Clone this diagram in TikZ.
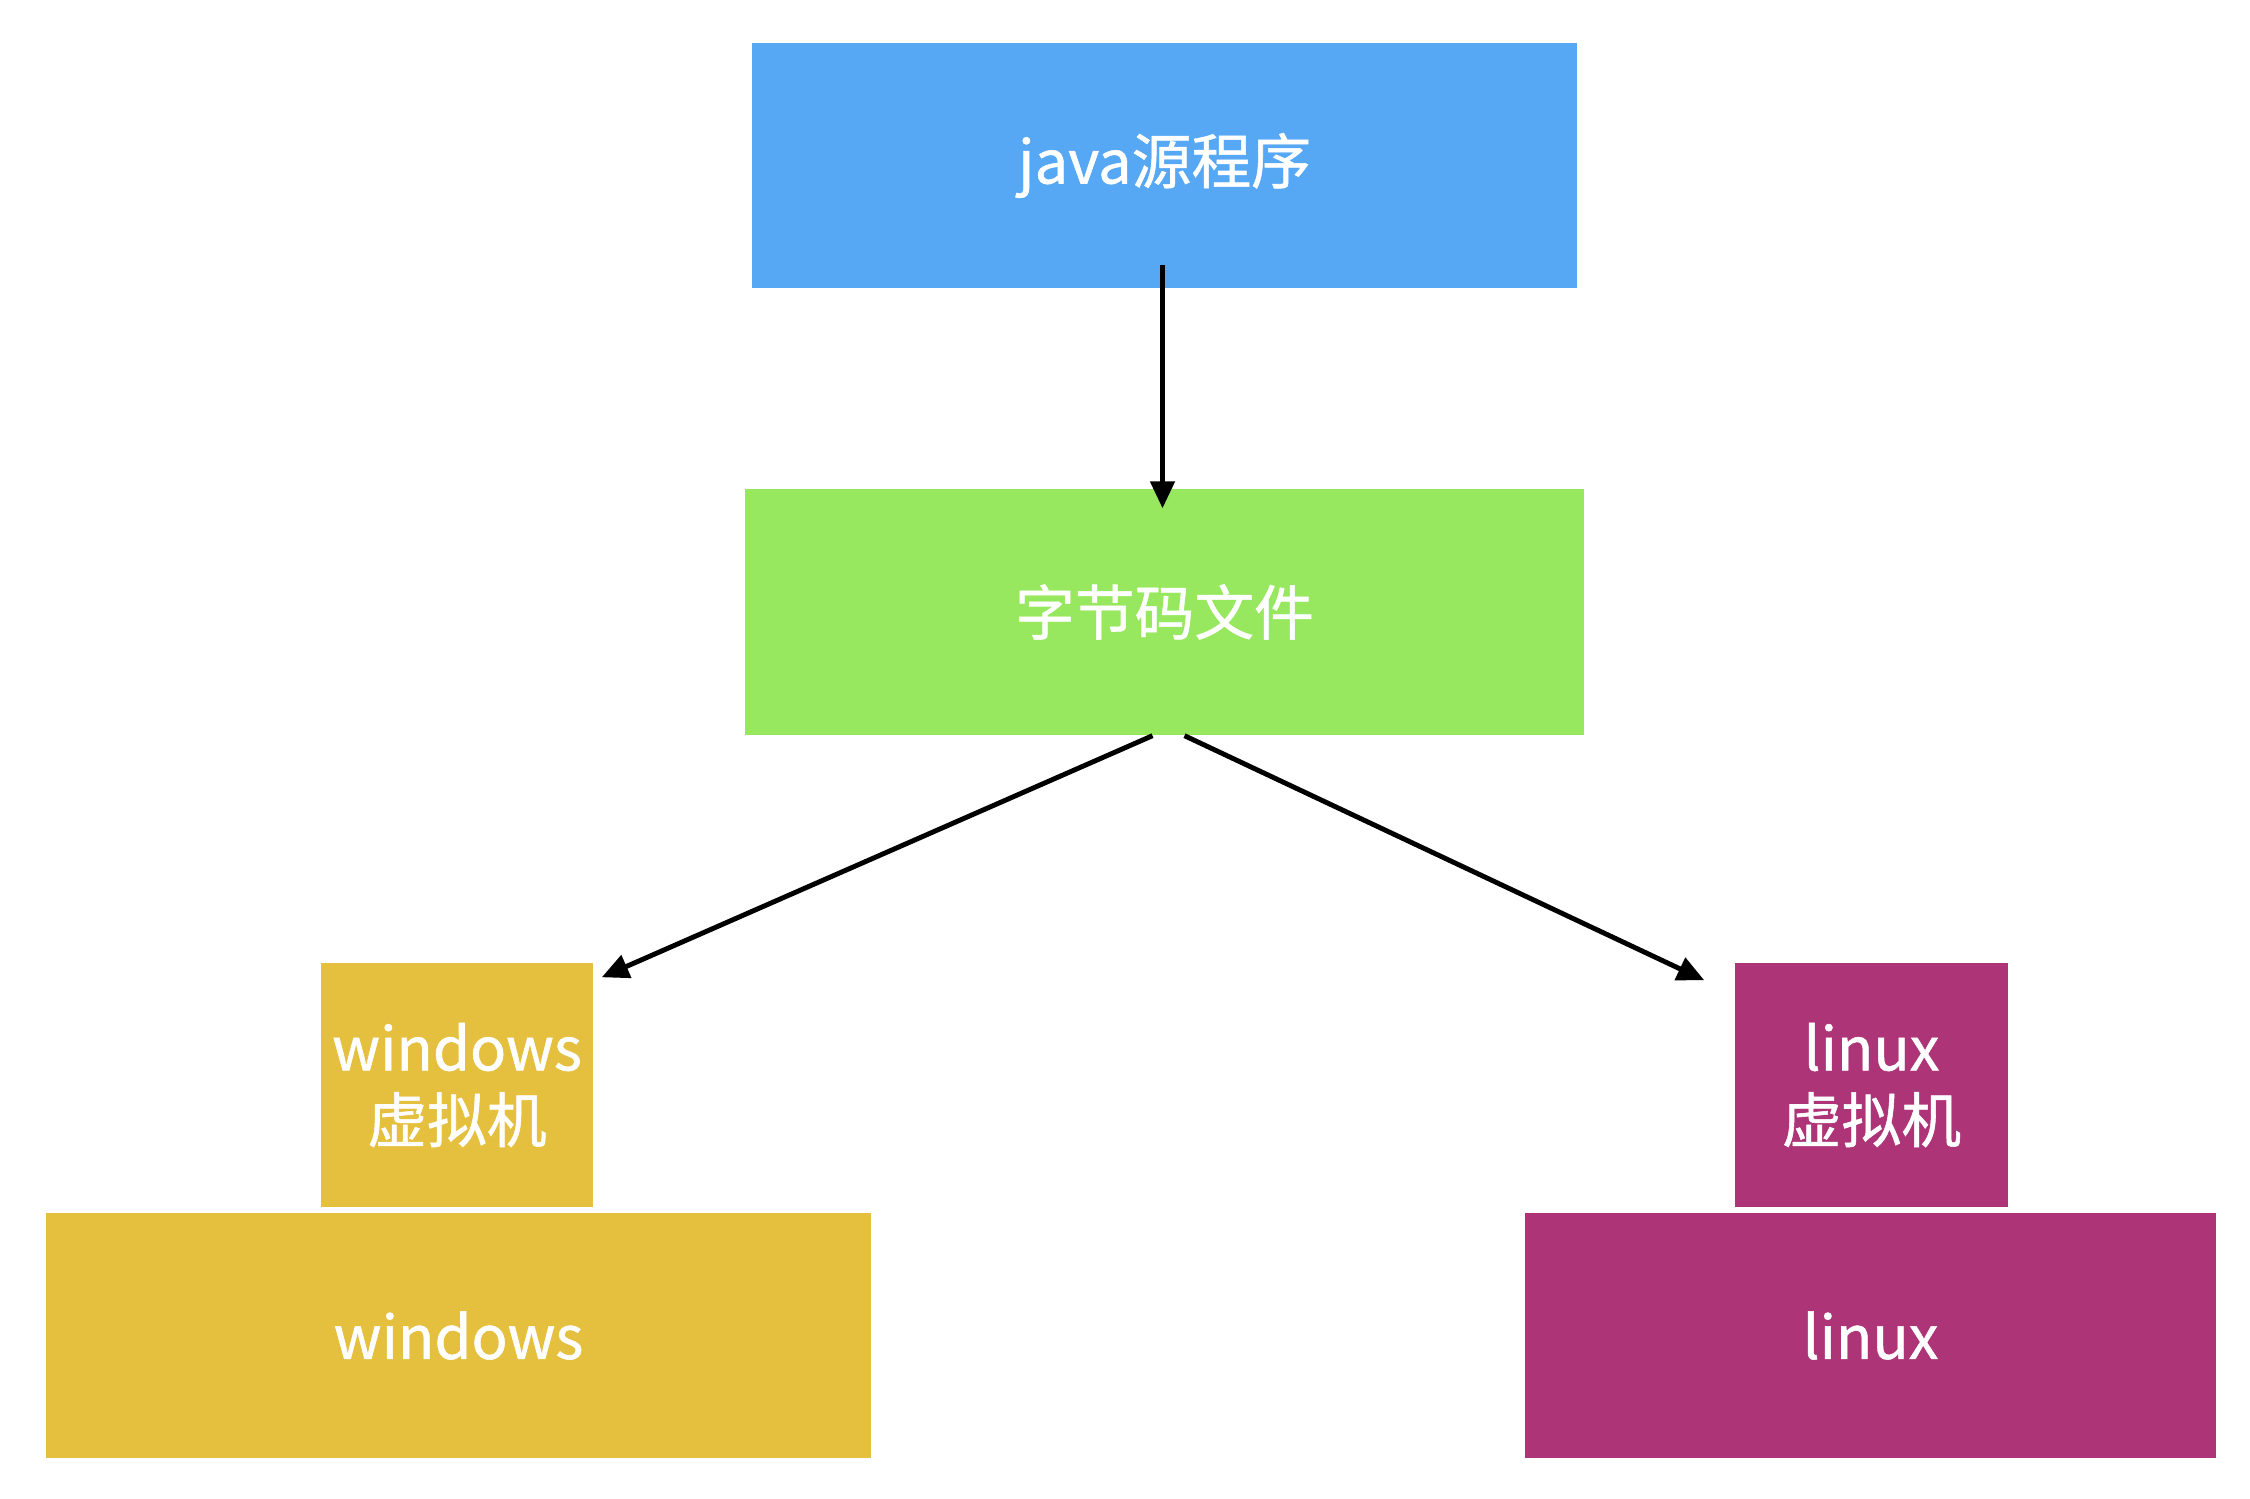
\documentclass[tikz,border=0pt]{standalone}
\usepackage{fontspec}
\setmainfont{Noto Sans CJK SC}[FakeBold=0.9]
\definecolor{srcblue}{RGB}{86, 168, 245}
\definecolor{codegreen}{RGB}{151, 232, 95}
\definecolor{winyellow}{RGB}{229, 192, 63}
\definecolor{linuxpurple}{RGB}{173, 53, 119}
\usetikzlibrary{arrows.meta,positioning}

\begin{document}
\begin{tikzpicture}[
    block/.style={rectangle, inner sep=0pt, text=white, align=center,
        font=\fontsize{17}{20.5}\selectfont},
    flow/.style={-{Triangle[length=0.27cm, width=0.24cm]}, line width=1.4pt, black}]
    \useasboundingbox (0,0) rectangle (22.5,14.98);

    \node[block, fill=srcblue, minimum width=8.25cm, minimum height=2.45cm] (java) at (11.645,13.325) {java源程序};

    \node[block, fill=codegreen, minimum width=8.39cm, minimum height=2.46cm] (bytecode) at (11.645,8.86) {字节码文件};

    \node[block, fill=winyellow, minimum width=2.72cm, minimum height=2.44cm] (winvm) at (4.57,4.13) {windows\\虚拟机};
    \node[block, fill=winyellow, minimum width=8.25cm, minimum height=2.45cm] (win) at (4.585,1.625) {windows};

    \node[block, fill=linuxpurple, minimum width=2.73cm, minimum height=2.44cm] (linvm) at (18.715,4.13) {linux\\虚拟机};
    \node[block, fill=linuxpurple, minimum width=6.91cm, minimum height=2.45cm] (linux) at (18.705,1.625) {linux};

    \draw[flow] ([xshift=-0.02cm, yshift=0.235cm]java.south) -- ([xshift=-0.02cm, yshift=-0.2cm]bytecode.north);
    \draw[flow] ([xshift=-0.12cm]bytecode.south) -- ([xshift=0.08cm, yshift=-0.15cm]winvm.north east);
    \draw[flow] ([xshift=0.2cm]bytecode.south) -- ([xshift=-0.3cm, yshift=-0.18cm]linvm.north west);
\end{tikzpicture}
\end{document}
